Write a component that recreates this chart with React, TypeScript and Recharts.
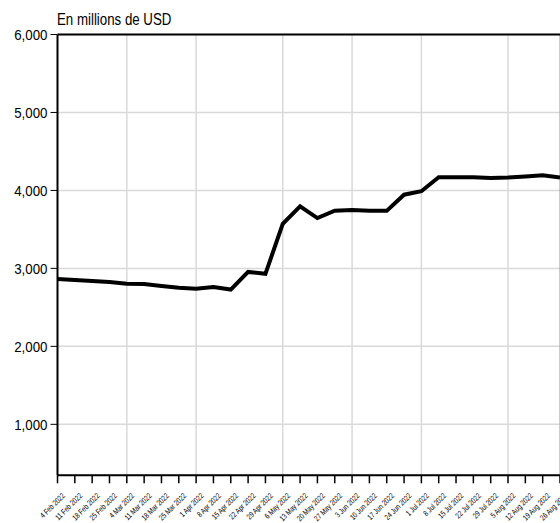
import { LineChart, Line, XAxis, YAxis, CartesianGrid, ReferenceLine } from 'recharts';

const weeks = [
  '4 Feb 2022', '11 Feb 2022', '18 Feb 2022', '25 Feb 2022',
  '4 Mar 2022', '11 Mar 2022', '18 Mar 2022', '25 Mar 2022',
  '1 Apr 2022', '8 Apr 2022', '15 Apr 2022', '22 Apr 2022', '29 Apr 2022',
  '6 May 2022', '13 May 2022', '20 May 2022', '27 May 2022',
  '3 Jun 2022', '10 Jun 2022', '17 Jun 2022', '24 Jun 2022',
  '1 Jul 2022', '8 Jul 2022', '15 Jul 2022', '22 Jul 2022', '29 Jul 2022',
  '5 Aug 2022', '12 Aug 2022', '19 Aug 2022', '26 Aug 2022',
];

const reserves = [
  2865, 2850, 2838, 2825,
  2802, 2800, 2775, 2752,
  2738, 2760, 2728, 2955, 2930,
  3570, 3795, 3645, 3740,
  3750, 3738, 3738, 3945,
  3990, 4170, 4170, 4170, 4160,
  4165, 4180, 4195, 4165,
];

const monthGrid = ['4 Mar 2022', '1 Apr 2022', '6 May 2022', '3 Jun 2022', '1 Jul 2022', '5 Aug 2022'];
const yTicks = [1000, 2000, 3000, 4000, 5000, 6000];

const data = weeks.map((w, i) => ({ week: w, value: reserves[i] }));

const FONT = '"Liberation Sans", Arial, sans-serif';

// rotated weekly date labels, squeezed to look like a condensed face
const DateTick = (props: any) => {
  const { x, y, payload } = props;
  return (
    <g transform={`translate(${x + 8},${y + 11})`}>
      <text
        transform="rotate(-45) scale(0.78,1)"
        textAnchor="end"
        fontSize={8}
        fontFamily={FONT}
        fill="#000"
      >
        {payload.value}
      </text>
    </g>
  );
};

const ValueTick = (props: any) => {
  const { x, y, payload } = props;
  return (
    <g transform={`translate(${x},${y})`}>
      <text
        transform="scale(0.86,1)"
        textAnchor="end"
        dy={5.5}
        fontSize={15.5}
        fontFamily={FONT}
        fill="#000"
      >
        {payload.value.toLocaleString('en-US')}
      </text>
    </g>
  );
};

export default function App() {
  return (
    <div style={{ position: 'absolute', left: 0, top: 0, width: 560, height: 523, overflow: 'hidden', background: '#fff' }}>
      <div
        style={{
          position: 'absolute',
          left: 57,
          top: 11,
          fontFamily: FONT,
          fontSize: 16,
          color: '#000',
          lineHeight: '18px',
          whiteSpace: 'nowrap',
          transform: 'scaleX(0.83)',
          transformOrigin: 'left top',
        }}
      >
        En millions de USD
      </div>
      <LineChart
        width={562}
        height={523}
        data={data}
        margin={{ top: 34.5, right: 2, bottom: 0, left: 0 }}
      >
        <CartesianGrid vertical={false} stroke="#d9d9d9" strokeWidth={1.5} />
        {monthGrid.map((m) => (
          <ReferenceLine key={m} x={m} stroke="#d9d9d9" strokeWidth={1.5} />
        ))}
        <ReferenceLine x={weeks[weeks.length - 1]} stroke="#999" strokeWidth={1} />
        <ReferenceLine y={6000} stroke="#000" strokeWidth={2} />
        <XAxis
          dataKey="week"
          interval={0}
          height={47.7}
          tick={<DateTick />}
          tickSize={8}
          tickLine={{ stroke: '#000', strokeWidth: 1.5 }}
          axisLine={{ stroke: '#000', strokeWidth: 2 }}
        />
        <YAxis
          domain={[346, 6000]}
          ticks={yTicks}
          width={57.5}
          tickSize={7}
          tickMargin={3}
          tick={<ValueTick />}
          tickLine={{ stroke: '#000', strokeWidth: 1 }}
          axisLine={{ stroke: '#000', strokeWidth: 2 }}
          allowDataOverflow
        />
        <Line
          type="linear"
          dataKey="value"
          stroke="#000"
          strokeWidth={4}
          dot={false}
          isAnimationActive={false}
        />
      </LineChart>
    </div>
  );
}
